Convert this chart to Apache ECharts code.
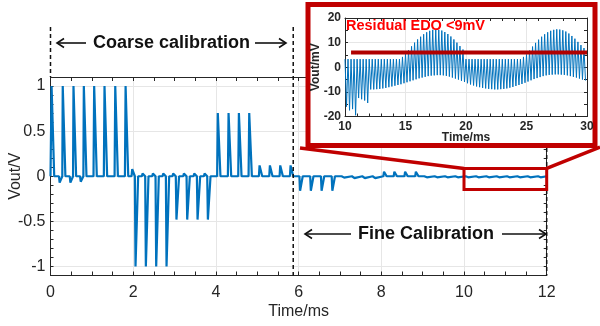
<!DOCTYPE html>
<html>
<head>
<meta charset="utf-8">
<script src="https://cdn.jsdelivr.net/npm/echarts@6/dist/echarts.min.js"></script>
<style>
  html, body { margin: 0; padding: 0; background: #fff; }
  #chart { width: 600px; height: 326px; }
</style>
</head>
<body>
<div id="chart"></div>
<script>
// main trace: pulse start times (ms) and their amplitudes (V)
const pulseTimes = [
  0.01, 0.205, 0.28, 0.465, 0.54, 0.715, 0.79, 1.04, 1.29, 1.55, 1.80,
  1.96, 2.04, 2.21, 2.29, 2.46, 2.54, 2.71, 2.79, 2.95, 3.03, 3.21, 3.29, 3.46, 3.54, 3.71, 3.79,
  4.03, 4.29, 4.54, 4.79,
  5.04, 5.29, 5.54, 5.79,
  6.02, 6.28, 6.54, 6.80,
  7.04, 7.29, 7.54, 7.79,
  8.05, 8.30, 8.56, 8.82,
  9.04, 9.29, 9.54, 9.79, 10.04, 10.29, 10.54, 10.79, 11.04, 11.29, 11.54, 11.79
];
const pulseAmps = [
  1, -0.07, 1, -0.07, 1, -0.06, 1, 1, 1, 1, 1,
  0.08, -1, 0.03, -1, 0.03, -1, 0.03, -1, 0.03, -0.48, 0.03, -0.48, 0.03, -0.48, 0.03, -0.48,
  0.7, 0.7, 0.7, 0.7,
  0.12, 0.12, 0.12, 0.12,
  -0.16, -0.16, -0.16, -0.16,
  -0.015, -0.02, -0.02, -0.02,
  0.05, 0.05, 0.05, 0.05,
  -0.012, -0.012, -0.012, -0.012, -0.012, -0.012, -0.012, -0.012, -0.012, -0.012, -0.012, -0.012
];

// inset trace: one sample every 0.25 ms from 10 ms, upper and lower swing (mV)
const insetStart = 10;
const insetStep = 0.25;
const insetTop = [
  3.3, 3.3, 3.3, 3.3, 3.3, 3.3, 3.3, 3.3, 3.3, 3.3,
  3.3, 3.3, 3.3, 3.3, 3.3, 3.3, 3.3, 3.3, 3.3, 4.2,
  5.5, 7.0, 8.5, 10.0, 11.3, 12.4, 13.4, 14.2, 14.8, 15.2,
  15.3, 15.2, 14.9, 14.3, 13.5, 12.5, 11.3, 10.0, 8.6, 7.2,
  3.3, 3.3, 3.3, 3.3, 3.3, 3.3, 3.3, 3.3, 3.3, 3.3,
  3.3, 3.3, 3.3, 3.3, 3.3, 3.3, 3.3, 3.3, 3.3, 4.2,
  5.2, 6.8, 8.4, 9.9, 11.2, 12.4, 13.4, 14.2, 14.8, 15.2,
  15.4, 15.3, 15.0, 14.5, 13.7, 12.7, 11.6, 10.3, 9.0, 7.8
];
const insetBottom = [
  -16, -17.5, -17, -19.5, -12.5, -13, -13.5, -14.5, -9, -9,
  -8.9, -8.8, -8.6, -8.4, -8.1, -7.8, -7.5, -7.2, -6.9, -6.5,
  -6.1, -5.7, -5.3, -4.9, -4.5, -4.2, -3.9, -3.6, -3.4, -3.3,
  -3.2, -3.2, -3.3, -3.5, -3.8, -4.2, -4.6, -5.0, -5.5, -6.0,
  -6.5, -7.0, -7.4, -7.8, -8.1, -8.4, -8.6, -8.8, -8.9, -9.0,
  -9.0, -8.9, -8.8, -8.6, -8.3, -8.0, -7.6, -7.2, -6.8, -6.3,
  -5.8, -5.3, -4.8, -4.4, -4.0, -3.6, -3.3, -3.1, -3.0, -2.9,
  -2.9, -3.0, -3.1, -3.3, -3.6, -3.9, -4.2, -4.6, -5.0, -5.4
];
// residual EDO level bar (mV) and its time span (ms)
const edoLevel = 6;
const edoSpan = [10.5, 30];

const mainXTicks = [0, 12, 2];
const insetXTicks = [10, 30, 5];
const insetYTicks = [-20, 20, 10];

const font = "'Liberation Sans', Arial, sans-serif";
const axisColor = '#262626';
const blue = '#0072BD';
const red = '#c00000';

// rise / top / fall of one pulse
const shapeDt = [0, 0.016, 0.062, 0.08];
const shapeK = [0, 1, 1, 0];

const mainData = [[0, 0]];
pulseTimes.forEach((t, i) => {
  shapeDt.forEach((d, j) => mainData.push([t + d, pulseAmps[i] * shapeK[j]]));
});
mainData.push([12, 0]);

const insetData = [];
insetTop.forEach((v, k) => {
  const t = insetStart + k * insetStep;
  insetData.push([t, v]);
  insetData.push([t + insetStep / 2, insetBottom[k]]);
});

const chart = echarts.init(document.getElementById('chart'));

const halfLabel = v => {
  const h = Math.round(v * 2);
  return Math.abs(v * 2 - h) < 1e-6 ? String(h / 2) : '';
};

const mainY = {
  gridIndex: 0, min: -1.1, max: 1.1, interval: 0.1,
  axisLine: { show: true, onZero: false, lineStyle: { color: axisColor } },
  axisTick: { inside: true, length: 3, lineStyle: { color: axisColor } },
  splitLine: { show: true, lineStyle: { color: ['transparent', '#e6e6e6', 'transparent', 'transparent', 'transparent'] } }
};

chart.setOption({
  animation: false,
  textStyle: { fontFamily: font },
  grid: [
    { left: 50.5, right: 53.3, top: 77, bottom: 50.5, outerBoundsMode: 'none', containLabel: false },
    { left: 345, right: 13, top: 18, bottom: 209.5, outerBoundsMode: 'none', containLabel: false }
  ],
  xAxis: [
    {
      gridIndex: 0, type: 'value', min: mainXTicks[0], max: mainXTicks[1], interval: mainXTicks[2],
      name: 'Time/ms', nameLocation: 'middle', nameGap: 28, nameMoveOverlap: false,
      nameTextStyle: { fontSize: 16, color: axisColor, fontFamily: font },
      axisLine: { onZero: false, lineStyle: { color: axisColor } },
      axisTick: { inside: true, length: 4, lineStyle: { color: axisColor } },
      minorTick: { show: true, splitNumber: 4, length: 4, lineStyle: { color: axisColor } },
      axisLabel: { fontSize: 16, color: axisColor, margin: 9, fontFamily: font },
      splitLine: { show: true, lineStyle: { color: '#e6e6e6' } }
    },
    {
      gridIndex: 0, type: 'value', position: 'top', min: mainXTicks[0], max: mainXTicks[1], interval: mainXTicks[2],
      axisLine: { onZero: false, lineStyle: { color: axisColor } },
      axisTick: { inside: true, length: 4, lineStyle: { color: axisColor } },
      minorTick: { show: true, splitNumber: 4, length: 4, lineStyle: { color: axisColor } },
      axisLabel: { show: false }, splitLine: { show: false }
    },
    {
      gridIndex: 1, type: 'value', min: insetXTicks[0], max: insetXTicks[1], interval: insetXTicks[2], z: 6,
      name: 'Time/ms', nameLocation: 'middle', nameGap: 15, nameMoveOverlap: false,
      nameTextStyle: { fontSize: 12, fontWeight: 'bold', color: axisColor, fontFamily: font },
      axisLine: { onZero: false, lineStyle: { color: axisColor } },
      axisTick: { inside: true, length: 3, lineStyle: { color: axisColor } },
      minorTick: { show: true, splitNumber: 5, length: 3, lineStyle: { color: axisColor } },
      axisLabel: { fontSize: 12, fontWeight: 'bold', color: axisColor, margin: 4, fontFamily: font },
      splitLine: { show: true, lineStyle: { color: '#e6e6e6' } }
    },
    {
      gridIndex: 1, type: 'value', position: 'top', min: insetXTicks[0], max: insetXTicks[1], interval: insetXTicks[2], z: 6,
      axisLine: { onZero: false, lineStyle: { color: axisColor } },
      axisTick: { inside: true, length: 3, lineStyle: { color: axisColor } },
      minorTick: { show: true, splitNumber: 5, length: 3, lineStyle: { color: axisColor } },
      axisLabel: { show: false }, splitLine: { show: false }
    }
  ],
  yAxis: [
    Object.assign({}, mainY, {
      name: 'Vout/V', nameLocation: 'middle', nameGap: 27, nameMoveOverlap: false,
      nameTextStyle: { fontSize: 16, color: axisColor, fontFamily: font },
      axisLabel: { fontSize: 16, color: axisColor, margin: 5, formatter: halfLabel, fontFamily: font }
    }),
    Object.assign({}, mainY, { position: 'right', axisLabel: { show: false }, splitLine: { show: false } }),
    {
      gridIndex: 1, type: 'value', min: insetYTicks[0], max: insetYTicks[1], interval: insetYTicks[2], z: 6,
      name: 'Vout/mV', nameLocation: 'middle', nameGap: 23, nameMoveOverlap: false,
      nameTextStyle: { fontSize: 12, fontWeight: 'bold', color: axisColor, fontFamily: font },
      axisLine: { show: true, onZero: false, lineStyle: { color: axisColor } },
      axisTick: { inside: true, length: 3, lineStyle: { color: axisColor } },
      minorTick: { show: true, splitNumber: 2, length: 3, lineStyle: { color: axisColor } },
      axisLabel: { fontSize: 12, fontWeight: 'bold', color: axisColor, margin: 4, fontFamily: font },
      splitLine: { show: true, lineStyle: { color: '#e6e6e6' } }
    },
    {
      gridIndex: 1, type: 'value', position: 'right', min: insetYTicks[0], max: insetYTicks[1], interval: insetYTicks[2], z: 6,
      axisLine: { show: true, onZero: false, lineStyle: { color: axisColor } },
      axisTick: { inside: true, length: 3, lineStyle: { color: axisColor } },
      minorTick: { show: true, splitNumber: 2, length: 3, lineStyle: { color: axisColor } },
      axisLabel: { show: false }, splitLine: { show: false }
    }
  ],
  series: [
    {
      type: 'line', xAxisIndex: 0, yAxisIndex: 0, data: mainData,
      showSymbol: false, lineStyle: { color: blue, width: 2.2 }, z: 2
    },
    {
      type: 'line', xAxisIndex: 2, yAxisIndex: 2, data: insetData,
      showSymbol: false, lineStyle: { color: blue, width: 1 }, z: 7
    },
    {
      type: 'line', xAxisIndex: 2, yAxisIndex: 2,
      data: [[edoSpan[0], edoLevel], [edoSpan[1], edoLevel]],
      showSymbol: false, lineStyle: { color: '#b00000', width: 4 }, z: 8
    }
  ]
});

const px = (x, y) => chart.convertToPixel({ xAxisIndex: 0, yAxisIndex: 0 }, [x, y]);
const top0 = px(0, 1.1)[1];
const bot0 = px(0, -1.1)[1];
const xL = px(0, 0)[0];
const xSplit = px(5.87, 0)[0];
const xR = px(12, 0)[0];
const zoomTL = px(10, 0.086);
const zoomBR = px(12, -0.148);

const dashed = (x, y1, y2) => ({
  type: 'line', z: 4, shape: { x1: x, y1: y1, x2: x, y2: y2 },
  style: { stroke: '#111', lineWidth: 1.5, lineDash: [4, 3] }
});
const arrow = (x1, x2, y) => {
  const d = x2 > x1 ? -7 : 7;
  return [
    { type: 'line', z: 8, shape: { x1: x1, y1: y, x2: x2, y2: y }, style: { stroke: '#111', lineWidth: 1.6 } },
    { type: 'polyline', z: 8, shape: { points: [[x2 + d, y - 4.5], [x2, y], [x2 + d, y + 4.5]] }, style: { stroke: '#111', lineWidth: 1.6, fill: null } }
  ];
};
const label = (x, y, text, size, color) => ({
  type: 'text', z: 9, x: x, y: y,
  style: { text: text, fill: color, font: 'bold ' + size + 'px ' + font, verticalAlign: 'middle', align: 'left' }
});

chart.setOption({
  graphic: [
    dashed(xL, 27, top0),
    dashed(xSplit, 27, bot0),
    dashed(xR, 148, bot0),
    ...arrow(86, 57, 43),
    ...arrow(255, 286, 43),
    label(93, 43, 'Coarse calibration', 18, '#111'),
    ...arrow(351, 305, 234),
    ...arrow(502, 546, 234),
    label(358, 234, 'Fine Calibration', 18, '#111'),
    {
      type: 'polyline', z: 4, shape: { points: [[300, 148], zoomTL] },
      style: { stroke: red, lineWidth: 3.5, fill: null }
    },
    {
      type: 'polyline', z: 4, shape: { points: [[600, 147], [zoomBR[0], zoomTL[1]]] },
      style: { stroke: red, lineWidth: 3.5, fill: null }
    },
    {
      type: 'rect', z: 4,
      shape: { x: zoomTL[0], y: zoomTL[1], width: zoomBR[0] - zoomTL[0], height: zoomBR[1] - zoomTL[1] },
      style: { stroke: red, lineWidth: 3, fill: null }
    },
    {
      type: 'rect', z: 5, shape: { x: 308, y: 4.5, width: 287, height: 141 },
      style: { stroke: red, lineWidth: 5, fill: '#fff' }
    },
    label(346, 26, 'Residual EDO <9mV', 14.5, '#ff0000')
  ]
});
</script>
</body>
</html>
